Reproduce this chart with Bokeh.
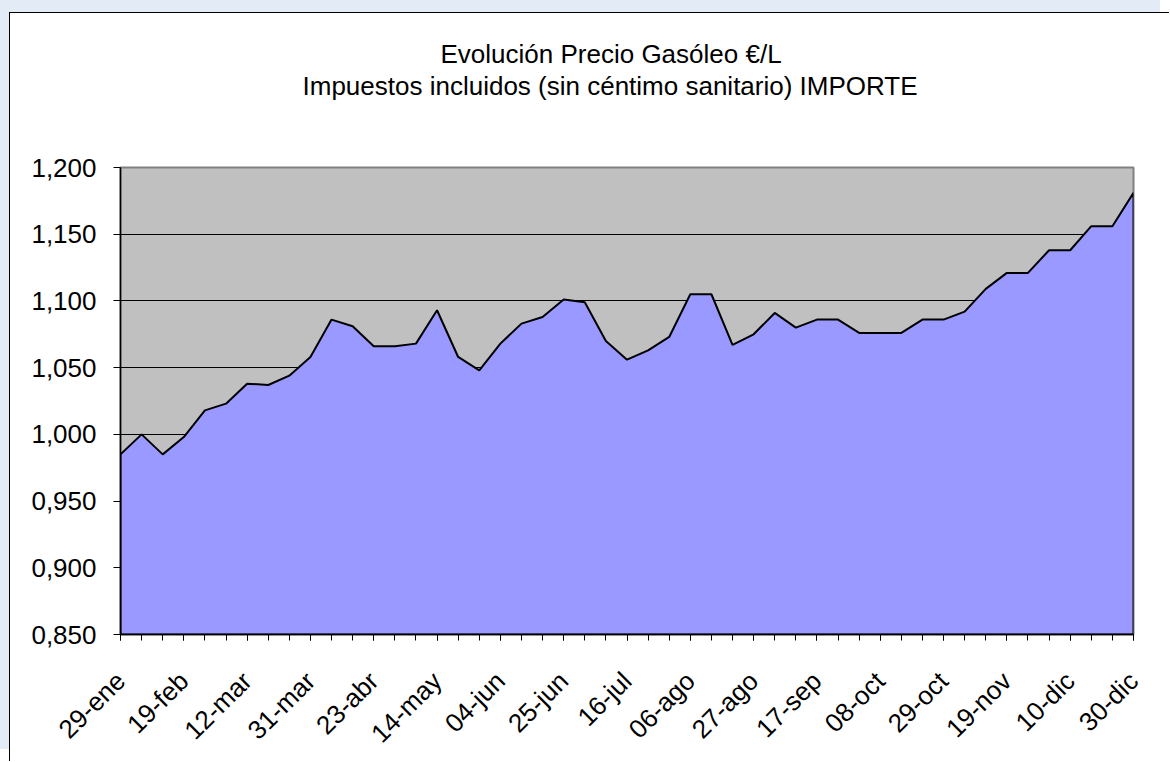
from bokeh.plotting import figure
from bokeh.models import Range1d, FixedTicker, Title
from bokeh.embed import file_html
from bokeh.resources import INLINE
import math

title_line1 = "Evolución Precio Gasóleo €/L"
title_line2 = "Impuestos incluidos (sin céntimo sanitario) IMPORTE"

prices = [0.985, 1.000, 0.985, 0.998, 1.018, 1.023, 1.038, 1.037, 1.044, 1.058,
          1.086, 1.081, 1.066, 1.066, 1.068, 1.093, 1.058, 1.048, 1.068, 1.083,
          1.088, 1.101, 1.099, 1.070, 1.056, 1.063, 1.073, 1.105, 1.105, 1.067,
          1.075, 1.091, 1.080, 1.086, 1.086, 1.076, 1.076, 1.076, 1.086, 1.086,
          1.092, 1.109, 1.121, 1.121, 1.138, 1.138, 1.156, 1.156, 1.181]

x_tick_labels = ["29-ene", "19-feb", "12-mar", "31-mar", "23-abr", "14-may",
                 "04-jun", "25-jun", "16-jul", "06-ago", "27-ago", "17-sep",
                 "08-oct", "29-oct", "19-nov", "10-dic", "30-dic"]
label_every = 3

y_ticks = [0.85, 0.90, 0.95, 1.00, 1.05, 1.10, 1.15, 1.20]
y_tick_labels = ["0,850", "0,900", "0,950", "1,000", "1,050", "1,100", "1,150", "1,200"]

y_min, y_max = y_ticks[0], y_ticks[-1]
xs = list(range(len(prices)))
x_major = xs[::label_every]

FONT = "Liberation Sans"

p = figure(width=1160, height=749, output_backend="svg", toolbar_location=None,
           title=None, x_range=Range1d(xs[0], xs[-1]), y_range=Range1d(y_min, y_max),
           min_border_left=110, min_border_right=37, min_border_top=154, min_border_bottom=126,
           background_fill_color="#c0c0c0", border_fill_color="white",
           styles={"border-left": "1px solid black", "border-top": "1px solid black",
                   "margin-top": "12px", "margin-left": "9px",
                   "box-shadow": "-9px -12px 0 0 #e3ebf6"})

p.outline_line_color = "#808080"
p.outline_line_width = 2

# titles (added from the frame outward)
p.add_layout(Title(text=" ", text_font_size="58px", text_font=FONT, standoff=0), "above")
p.add_layout(Title(text=title_line2, align="left", text_font=FONT, text_font_size="26px",
                   text_font_style="normal", text_color="black", standoff=0, offset=182), "above")
p.add_layout(Title(text=title_line1, align="left", text_font=FONT, text_font_size="26px",
                   text_font_style="normal", text_color="black", standoff=0, offset=320), "above")

# area polygon built from the data
patch_x = [xs[0]] + xs + [xs[-1]]
patch_y = [y_min] + prices + [y_min]
p.patch(patch_x, patch_y, fill_color="#9999ff", line_color="black", line_width=2)

# grid
p.xgrid.visible = False
p.ygrid.ticker = FixedTicker(ticks=y_ticks)
p.ygrid.grid_line_color = "black"
p.ygrid.grid_line_width = 1

# axes
p.yaxis.ticker = FixedTicker(ticks=y_ticks)
p.yaxis.major_label_overrides = {t: l for t, l in zip(y_ticks, y_tick_labels)}
p.xaxis.ticker = FixedTicker(ticks=x_major, minor_ticks=xs)
p.xaxis.major_label_overrides = {t: l for t, l in zip(x_major, x_tick_labels)}
p.xaxis.major_label_orientation = math.pi / 4

for ax in (p.xaxis, p.yaxis):
    ax.axis_line_color = "black"
    ax.axis_line_width = 1.5
    ax.major_tick_line_color = "black"
    ax.minor_tick_line_color = "black"
    ax.major_tick_in = 0
    ax.minor_tick_in = 0
    ax.major_label_text_font = FONT
    ax.major_label_text_font_size = "26px"
    ax.major_label_text_color = "black"

p.yaxis.major_tick_out = 7
p.yaxis.minor_tick_out = 0
p.yaxis.major_label_standoff = 17
p.xaxis.major_tick_out = 6
p.xaxis.minor_tick_out = 6
p.xaxis.major_label_standoff = 36

open("out.html", "w").write(file_html(p, INLINE))
